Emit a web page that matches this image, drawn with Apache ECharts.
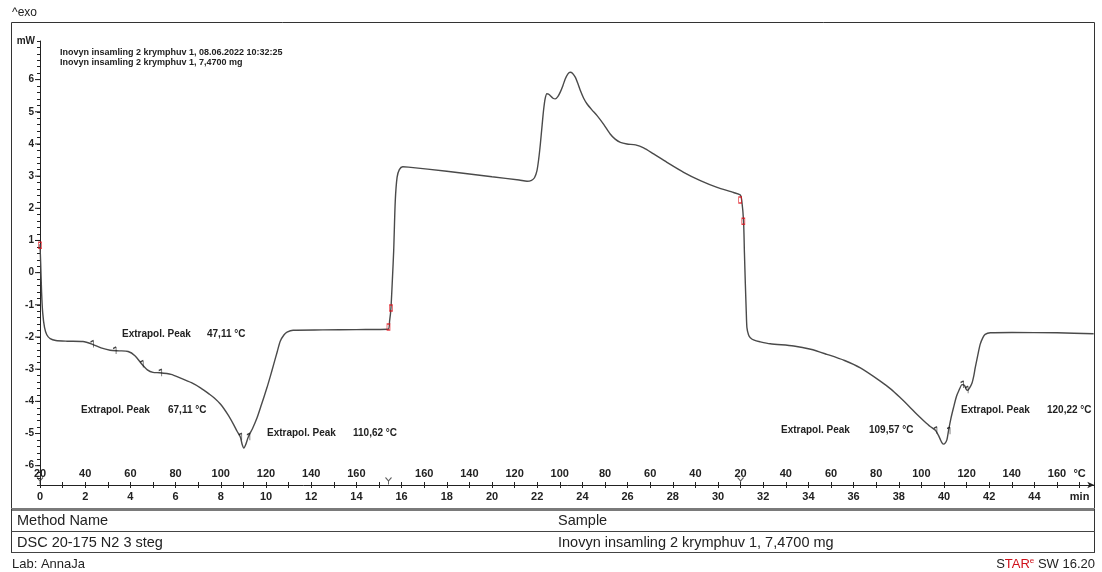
<!DOCTYPE html>
<html>
<head>
<meta charset="utf-8">
<script src="https://cdn.jsdelivr.net/npm/echarts@6/dist/echarts.min.js"></script>
<style>
  html, body { margin: 0; padding: 0; background: #fff; }
  #chart { width: 1102px; height: 572px; }
</style>
</head>
<body>
<div id="chart"></div>
<script>
// DSC run: heat flow (mW) against time (min), three temperature segments
const heatFlow = [
  [0, 0.88], [0.03, 0.3], [0.07, -0.6], [0.12, -1.25], [0.2, -1.7], [0.3, -1.93], [0.45, -2.05],
  [0.7, -2.11], [1.2, -2.13], [1.9, -2.14], [2.3, -2.22], [2.7, -2.34], [3.1, -2.41], [3.5, -2.43],
  [3.9, -2.45], [4.2, -2.58], [4.5, -2.84], [4.75, -3.02], [5.0, -3.1], [5.3, -3.11], [5.8, -3.16],
  [6.2, -3.27], [6.7, -3.42], [7.1, -3.58], [7.5, -3.78], [7.7, -3.89], [8.0, -4.1], [8.3, -4.4],
  [8.55, -4.7], [8.72, -4.93], [8.86, -5.1], [8.95, -5.35], [9.02, -5.45], [9.1, -5.35], [9.22, -5.1],
  [9.4, -4.85], [9.6, -4.52], [9.8, -4.1], [10.04, -3.58], [10.2, -3.2], [10.34, -2.85], [10.5, -2.45],
  [10.63, -2.13], [10.8, -1.93], [10.93, -1.85], [11.2, -1.79], [12.5, -1.78], [14.0, -1.77], [15.4, -1.76],
  [15.47, -1.5], [15.53, -1.09], [15.6, -0.1], [15.65, 0.68], [15.72, 2.23], [15.8, 2.96], [15.9, 3.2],
  [16.05, 3.29], [16.3, 3.28], [18.0, 3.15], [20.0, 2.98], [21.2, 2.88], [21.55, 2.84], [21.75, 2.87],
  [21.88, 2.95], [21.99, 3.17], [22.07, 3.55], [22.14, 4.0], [22.22, 4.6], [22.28, 5.04], [22.35, 5.4],
  [22.43, 5.56], [22.5, 5.55], [22.58, 5.5], [22.7, 5.42], [22.8, 5.4], [22.92, 5.48], [23.02, 5.61],
  [23.14, 5.82], [23.24, 6.02], [23.36, 6.18], [23.46, 6.23], [23.56, 6.2], [23.69, 6.07], [23.8, 5.88],
  [23.91, 5.66], [24.05, 5.43], [24.2, 5.25], [24.42, 5.06], [24.65, 4.88], [24.95, 4.6], [25.23, 4.31],
  [25.45, 4.15], [25.68, 4.05], [25.97, 4.0], [26.35, 3.97], [26.71, 3.88], [27.15, 3.69], [27.74, 3.43],
  [28.48, 3.12], [29.22, 2.86], [29.96, 2.65], [30.69, 2.49], [30.99, 2.41], [31.05, 2.25], [31.13, 1.61],
  [31.17, 0.6], [31.21, -0.35], [31.25, -1.2], [31.28, -1.71], [31.35, -1.93], [31.43, -2.02], [31.6, -2.1],
  [31.87, -2.15], [32.31, -2.21], [33.35, -2.28], [34.1, -2.38], [34.82, -2.54], [35.6, -2.73], [36.3, -2.96],
  [37.18, -3.37], [37.65, -3.62], [38.07, -3.89], [38.45, -4.15], [38.81, -4.41], [39.1, -4.6], [39.39, -4.78],
  [39.62, -4.9], [39.75, -5.05], [39.84, -5.19], [39.92, -5.3], [39.98, -5.33], [40.05, -5.3], [40.13, -5.19],
  [40.2, -4.91], [40.3, -4.55], [40.42, -4.2], [40.55, -3.85], [40.65, -3.68], [40.8, -3.48], [40.9, -3.5],
  [40.98, -3.62], [41.04, -3.66], [41.12, -3.6], [41.24, -3.43], [41.32, -3.2], [41.38, -2.96], [41.5, -2.55],
  [41.6, -2.23], [41.72, -2.02], [41.82, -1.92], [42.05, -1.87], [43.0, -1.86], [45.0, -1.87], [46.62, -1.9]
];

// integration limits set on the peaks
const limitMarks = [
  [2.3, -2.22], [3.3, -2.42], [4.5, -2.84], [5.32, -3.11],
  [8.86, -5.1], [9.22, -5.1],
  [39.62, -4.9], [40.2, -4.91], [40.8, -3.48], [41.0, -3.64]
];

// segment boundary marks on the curve
const segmentCurveMarks = [[0, 0.85], [15.42, -1.69], [15.53, -1.1], [30.98, 2.26], [31.12, 1.6]];

// segment starts on the temperature scale
const segmentStarts = [0, 15.42, 31.0];

const timeTickValues = [0, 2, 4, 6, 8, 10, 12, 14, 16, 18, 20, 22, 24, 26, 28, 30, 32, 34, 36, 38, 40, 42, 44, 46];
const timeTickLabels = ['0', '2', '4', '6', '8', '10', '12', '14', '16', '18', '20', '22', '24', '26', '28', '30', '32', '34', '36', '38', '40', '42', '44', 'min'];

const tempTickTimes = [0, 2, 4, 6, 8, 10, 12, 14, 17, 19, 21, 23, 25, 27, 29, 31, 33, 35, 37, 39, 41, 43, 45, 46];
const tempTickLabels = ['20', '40', '60', '80', '100', '120', '140', '160', '160', '140', '120', '100', '80', '60', '40', '20', '40', '60', '80', '100', '120', '140', '160', '°C'];

const yMajorTicks = [-6, -5, -4, -3, -2, -1, 0, 1, 2, 3, 4, 5, 6];
const yUnit = 'mW';

const peakValues = ['47,11 °C', '67,11 °C', '110,62 °C', '109,57 °C', '120,22 °C'];
const peakTitle = 'Extrapol. Peak';

const headerLines = [
  'Inovyn insamling 2 krymphuv 1, 08.06.2022 10:32:25',
  'Inovyn insamling 2 krymphuv 1, 7,4700 mg'
];
const tableHeads = ['Method Name', 'Sample'];
const tableRow = ['DSC 20-175 N2 3 steg', 'Inovyn insamling 2 krymphuv 1, 7,4700 mg'];
const footerLeft = 'Lab: AnnaJa';

const FONT = '"Liberation Sans", Arial, Helvetica, sans-serif';
const INK = '#222';

const Y_MIN = -6.6, Y_MAX = 7.2, X_MAX = 46.65;

function lookup(values, labels, v) {
  for (let i = 0; i < values.length; i++) {
    if (Math.abs(values[i] - v) < 1e-6) return labels[i];
  }
  return '';
}

const chart = echarts.init(document.getElementById('chart'), null, { renderer: 'canvas' });

// label layout: [left x of title, left x of value, center y]
const peakLayout = [
  [122, 207, 334],
  [81, 168, 410],
  [267, 353, 433],
  [781, 869, 430],
  [961, 1047, 410]
];

const graphics = [];
// outer frame of the plot
graphics.push({ type: 'rect', shape: { x: 11.5, y: 22.5, width: 1083, height: 487 },
  style: { fill: 'none', stroke: '#333', lineWidth: 1 }, silent: true });
graphics.push({ type: 'line', shape: { x1: 11, y1: 509.5, x2: 1095, y2: 509.5 },
  style: { stroke: '#7a7a7a', lineWidth: 3 }, silent: true });
// info table
graphics.push({ type: 'line', shape: { x1: 11.5, y1: 509, x2: 11.5, y2: 553 }, style: { stroke: '#333', lineWidth: 1 } });
graphics.push({ type: 'line', shape: { x1: 1094.5, y1: 509, x2: 1094.5, y2: 553 }, style: { stroke: '#333', lineWidth: 1 } });
graphics.push({ type: 'line', shape: { x1: 11, y1: 531.5, x2: 1095, y2: 531.5 }, style: { stroke: '#444', lineWidth: 1 } });
graphics.push({ type: 'line', shape: { x1: 11, y1: 552.5, x2: 1095, y2: 552.5 }, style: { stroke: '#444', lineWidth: 1 } });

function txt(x, y, text, opts) {
  return Object.assign({ type: 'text', x: x, y: y, silent: true,
    style: Object.assign({ text: text, fill: INK, font: '10px ' + FONT, textVerticalAlign: 'middle', textAlign: 'left' }, opts || {}) });
}

graphics.push(txt(12, 13, '^exo', { font: '12px ' + FONT }));
graphics.push(txt(60, 53, headerLines[0], { font: 'bold 9px ' + FONT }));
graphics.push(txt(60, 62.5, headerLines[1], { font: 'bold 9px ' + FONT }));
graphics.push(txt(35, 41, yUnit, { font: 'bold 10px ' + FONT, textAlign: 'right' }));

peakValues.forEach(function (v, i) {
  const p = peakLayout[i];
  graphics.push(txt(p[0], p[2], peakTitle, { font: 'bold 10px ' + FONT }));
  graphics.push(txt(p[1], p[2], v, { font: 'bold 10px ' + FONT }));
});

graphics.push(txt(17, 521, tableHeads[0], { font: '14.5px ' + FONT }));
graphics.push(txt(558, 521, tableHeads[1], { font: '14.5px ' + FONT }));
graphics.push(txt(17, 543, tableRow[0], { font: '14.5px ' + FONT }));
graphics.push(txt(558, 543, tableRow[1], { font: '14.5px ' + FONT }));
graphics.push(txt(12, 564, footerLeft, { font: '13px ' + FONT }));
graphics.push({ type: 'text', right: 7, top: 557, silent: true,
  style: {
    text: '{k|S}{r|TAR}{e|e}{k| SW 16.20}',
    rich: {
      k: { fill: INK, font: '13px ' + FONT },
      r: { fill: '#d0101a', font: '13px ' + FONT },
      e: { fill: '#d0101a', font: '8px ' + FONT, verticalAlign: 'top', padding: [0, 0, 6, 0] }
    }
  } });

const option = {
  animation: false,
  backgroundColor: '#fff',
  grid: { left: 40, top: 41, width: X_MAX * 22.6, height: 444, outerBoundsMode: 'none', containLabel: false },
  xAxis: [
    {
      type: 'value', min: 0, max: X_MAX, interval: 1, position: 'bottom',
      axisLine: { show: true, onZero: false, lineStyle: { color: INK, width: 1 }, symbol: ['none', 'arrow'], symbolSize: [5, 7] },
      axisTick: { show: true, length: 3, lineStyle: { color: INK } },
      axisLabel: { margin: 6, color: INK, fontFamily: FONT, fontWeight: 'bold', fontSize: 11,
        formatter: function (v) { return lookup(timeTickValues, timeTickLabels, v); } },
      splitLine: { show: false }
    },
    {
      type: 'value', min: 0, max: X_MAX, interval: 1, position: 'bottom', offset: 0,
      axisLine: { show: false, onZero: false },
      axisTick: { show: true, inside: true, length: 3, lineStyle: { color: INK } },
      axisLabel: { inside: true, margin: 6, color: INK, fontFamily: FONT, fontWeight: 'bold', fontSize: 11,
        formatter: function (v) { return lookup(tempTickTimes, tempTickLabels, v); } },
      splitLine: { show: false }
    }
  ],
  yAxis: {
    type: 'value', min: Y_MIN, max: Y_MAX, interval: 0.2,
    axisLine: { show: true, onZero: false, lineStyle: { color: INK, width: 1 } },
    axisTick: { show: true, length: 3, lineStyle: { color: INK } },
    axisLabel: { margin: 6, color: INK, fontFamily: FONT, fontWeight: 'bold', fontSize: 10,
      formatter: function (v) {
        const r = Math.round(v);
        return (Math.abs(v - r) < 1e-6 && yMajorTicks.indexOf(r) >= 0) ? String(r) : '';
      } },
    splitLine: { show: false }
  },
  graphic: graphics,
  series: [
    {
      type: 'line', name: 'Heat flow', data: heatFlow, showSymbol: false, smooth: 0.25,
      lineStyle: { color: '#4a4a4a', width: 1.4 }, z: 3
    },
    {
      type: 'scatter', name: 'Limits', data: limitMarks, symbol: 'path://M0,2 L2,0 M2,0 L2,10',
      symbolSize: [3, 7], itemStyle: { color: 'rgba(0,0,0,0)', borderColor: '#111', borderWidth: 1 }, z: 4
    },
    {
      type: 'scatter', name: 'Segment marks', data: segmentCurveMarks, symbol: 'rect',
      symbolSize: [3, 6], itemStyle: { color: 'rgba(0,0,0,0)', borderColor: '#e0101a', borderWidth: 1 }, z: 5
    },
    {
      type: 'scatter', name: 'Segment starts', clip: false,
      data: segmentStarts.map(function (t) { return [t, Y_MIN]; }),
      symbol: 'path://M0,0 L3,4 L6,0 M3,4 L3,8', symbolSize: [6, 7], symbolOffset: [0, -4],
      itemStyle: { color: 'rgba(0,0,0,0)', borderColor: '#333', borderWidth: 1 }, z: 5
    },
    {
      type: 'custom', name: 'Major y ticks', clip: false,
      data: yMajorTicks.map(function (v) { return [0, v]; }),
      renderItem: function (params, api) {
        const p = api.coord([0, api.value(1)]);
        return { type: 'line', shape: { x1: p[0] - 5, y1: p[1], x2: p[0], y2: p[1] },
          style: { stroke: INK, lineWidth: 1 } };
      },
      z: 5
    }
  ]
};

chart.setOption(option);
</script>
</body>
</html>
